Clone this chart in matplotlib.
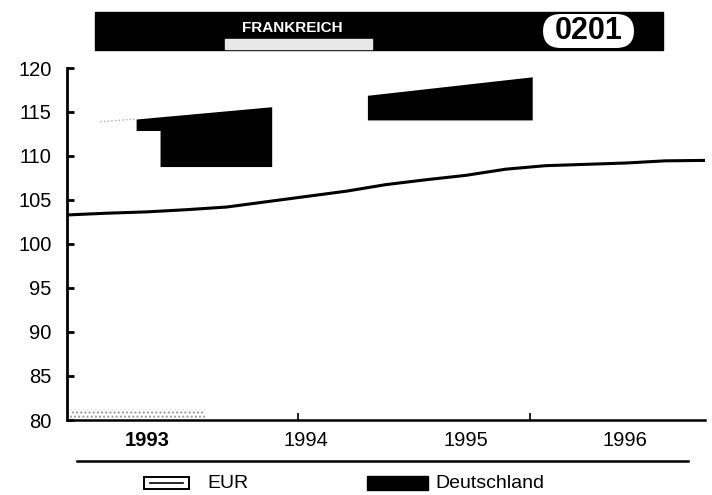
import matplotlib
matplotlib.use("Agg")
import matplotlib.pyplot as plt
from matplotlib.patches import Rectangle, FancyBboxPatch
from matplotlib.lines import Line2D

plt.rcParams["font.family"] = ["Liberation Sans", "DejaVu Sans"]

# --- data (months since Jan 1993) ---
months = [0, 3, 6, 9, 12, 15, 18, 21, 24, 27, 30, 33, 36, 39, 42, 45, 48]
eur = [103.3, 103.5, 103.65, 103.9, 104.2, 104.8, 105.4, 106.0, 106.75,
       107.3, 107.8, 108.5, 108.9, 109.05, 109.2, 109.45, 109.5]

# Deutschland blocks (as they survive in the scan)
de_a_month = [5.2, 7.0, 7.0, 15.4]
de_a_top = [114.2, 114.45, 114.45, 115.6]
de_a_bottom = [112.9, 112.9, 108.8, 108.8]
de_b_month = [22.6, 35.0]
de_b_top = [116.9, 119.0]
de_b_bottom = [114.1, 114.1]

faint_month = [2.5, 5.2]
faint_val = [113.9, 114.2]
stipple_month = [0.2, 10.4]
stipple_top = [81.3, 81.3]

year_labels = ["1993", "1994", "1995", "1996"]
year_pos = [6, 18, 30, 42]
year_ticks = [17.4, 34.8]
y_ticks = list(range(80, 121, 5))

W, H = 712, 495
fig = plt.figure(figsize=(W / 100, H / 100), dpi=100)


def fx(x):
    return x / W


def fy(y):
    return 1 - y / H


ax = fig.add_axes([fx(67), fy(420), fx(705) - fx(67), fy(68) - fy(420)])
ax.set_xlim(0, 48)
ax.set_ylim(80, 120)

ax.fill_between(stipple_month, 80, stipple_top, facecolor="white",
                edgecolor="#9a9a9a", hatch="....", linewidth=0)
ax.plot(faint_month, faint_val, ls=":", color="#aaaaaa", lw=1)
ax.fill_between(de_a_month, de_a_bottom, de_a_top, color="black", lw=0)
ax.fill_between(de_b_month, de_b_bottom, de_b_top, color="black", lw=0)
ax.plot(months, eur, color="black", lw=2.2, solid_capstyle="butt")

for side in ("top", "right"):
    ax.spines[side].set_visible(False)
ax.spines["left"].set_linewidth(2.0)
ax.spines["bottom"].set_linewidth(1.8)

ax.set_yticks(y_ticks)
ax.tick_params(axis="y", direction="in", length=5, width=2, labelsize=14.5, pad=11)
ax.set_xticks(year_pos)
ax.set_xticklabels(year_labels)
ax.tick_params(axis="x", length=0, labelsize=14.5, pad=8)
ax.xaxis.get_ticklabels()[0].set_fontweight("bold")
ax.set_xticks(year_ticks, minor=True)
ax.tick_params(axis="x", which="minor", direction="in", length=5, width=1.2)

# title bar
fig.patches.append(Rectangle((fx(95), fy(50)), fx(663) - fx(95), fy(12) - fy(50),
                             transform=fig.transFigure, color="black"))
fig.patches.append(Rectangle((fx(225), fy(49)), fx(372) - fx(225), fy(39) - fy(49),
                             transform=fig.transFigure, color="#e8e8e8"))
fig.patches.append(FancyBboxPatch((fx(543), fy(48)), fx(634) - fx(543), fy(14) - fy(48),
                                  boxstyle="round,pad=0,rounding_size=0.025",
                                  transform=fig.transFigure, facecolor="white",
                                  edgecolor="none", mutation_aspect=1.4))
fig.text(fx(292), fy(28), "FRANKREICH", color="white", fontsize=11, fontweight="bold",
         ha="center", va="center")
fig.text(fx(589), fy(31), "0201", color="black", fontsize=22, fontweight="bold",
         ha="center", va="center")

# bottom rule and legend
fig.lines.append(Line2D([fx(77), fx(688)], [fy(461), fy(461)], transform=fig.transFigure,
                        color="black", lw=1.8))
fig.patches.append(Rectangle((fx(144), fy(489)), fx(189) - fx(144), fy(477) - fy(489),
                             transform=fig.transFigure, facecolor="white",
                             edgecolor="black", lw=1.4))
fig.lines.append(Line2D([fx(150), fx(183)], [fy(483), fy(483)], transform=fig.transFigure,
                        color="black", lw=1.2))
fig.text(fx(207), fy(483), "EUR", fontsize=14, ha="left", va="center")
fig.patches.append(Rectangle((fx(367), fy(490)), fx(428) - fx(367), fy(476) - fy(490),
                             transform=fig.transFigure, color="black"))
fig.text(fx(435), fy(483), "Deutschland", fontsize=14, ha="left", va="center")

fig.savefig("out.png", dpi=100)
